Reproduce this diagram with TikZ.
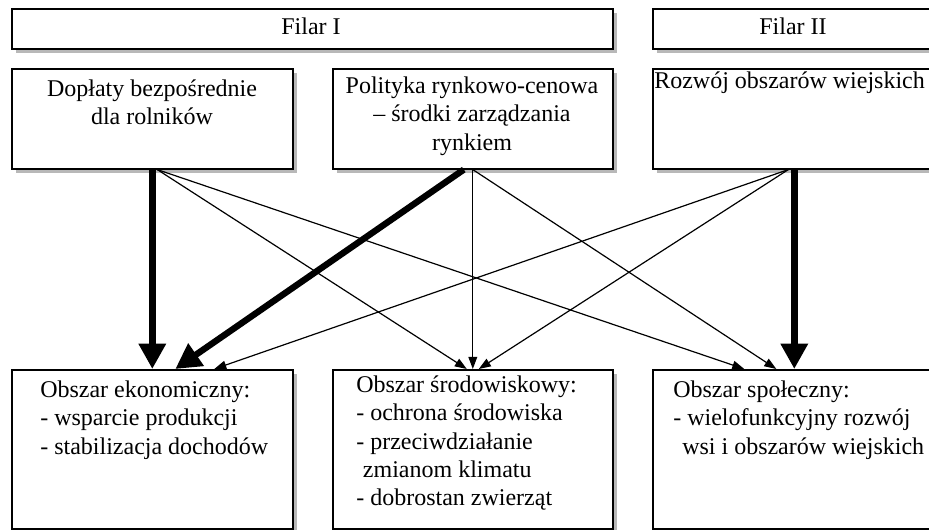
\documentclass[tikz,border=0pt]{standalone}
\usepackage{fontspec}
\setmainfont{Liberation Serif}
\usetikzlibrary{arrows.meta,shadows}
\def\PX{0.75pt}
\begin{document}
\begin{tikzpicture}[x=0.75pt,y=-0.75pt,
  box/.style={draw, line width=1.2pt, fill=white, inner sep=0pt, anchor=north west,
    general shadow={fill=black!28, shadow xshift=3pt, shadow yshift=-3pt}},
  txt/.style={inner sep=0pt, font=\fontsize{18}{21.3}\selectfont},
  link/.style={line width=0.9pt, -{Triangle[length=9pt,width=6.5pt]}},
  mainlink/.style={line width=4.8pt, -{Triangle[length=19pt,width=19.5pt]}}]
\useasboundingbox (0,0) rectangle (929,530);
\clip (0,0) rectangle (929,530);
% boxes
\node[box, minimum width=601*\PX, minimum height=40*\PX] (f1) at (11,8) {};
\node[box, minimum width=283*\PX, minimum height=40*\PX] (f2) at (652,8) {};
\node[box, minimum width=281*\PX, minimum height=100*\PX] (d) at (11,68) {};
\node[box, minimum width=280*\PX, minimum height=100*\PX] (p) at (332,68) {};
\node[box, minimum width=283*\PX, minimum height=100*\PX] (r) at (652,68) {};
\node[box, minimum width=281*\PX, minimum height=159*\PX] (e) at (11,369) {};
\node[box, minimum width=280*\PX, minimum height=159*\PX] (s) at (332,369) {};
\node[box, minimum width=283*\PX, minimum height=159*\PX] (o) at (652,369) {};
% texts
\node[txt, anchor=base] (f1t) at (311,35) {Filar I};
\node[txt, anchor=base] (f2t) at (793,35) {Filar II};
\node[txt, anchor=north, align=center] (dt) at (152,74.7)
  {\rule{0pt}{16pt}Dopłaty bezpośrednie\\dla rolników};
\node[txt, anchor=north, align=center] (pt) at (472,71.7)
  {\rule{0pt}{16pt}Polityka rynkowo-cenowa\\– środki zarządzania\\rynkiem};
\node[txt, anchor=north west, align=left] (rt) at (654,66.7)
  {\rule{0pt}{16pt}Rozwój obszarów wiejskich};
\node[txt, anchor=north west, align=left] (et) at (40,375.7)
  {\rule{0pt}{16pt}Obszar ekonomiczny:\\- wsparcie produkcji\\- stabilizacja dochodów};
\node[txt, anchor=north west, align=left] (st) at (356,370.7)
  {\rule{0pt}{16pt}Obszar środowiskowy:\\- ochrona środowiska\\- przeciwdziałanie\\\hspace*{5pt}zmianom klimatu\\- dobrostan zwierząt};
\node[txt, anchor=north west, align=left] (ot) at (673,375.7)
  {\rule{0pt}{16pt}Obszar społeczny:\\- wielofunkcyjny rozwój\\\hspace*{6.75pt}wsi i obszarów wiejskich};
% connectors
\draw[link] ([xshift=5*\PX]d.south) -- ([xshift=-6*\PX]s.north);
\draw[link] ([xshift=5*\PX]d.south) -- ([xshift=-50*\PX]o.north);
\draw[link] (p.south) -- (s.north);
\draw[link] (p.south) -- ([xshift=-18*\PX]o.north);
\draw[link] ([xshift=-6*\PX]r.south) -- ([xshift=62*\PX]e.north);
\draw[link] ([xshift=-6*\PX]r.south) -- ([xshift=6*\PX]s.north);
\draw[mainlink] (d.south) -- (e.north);
\draw[mainlink] ([xshift=-9*\PX]p.south) -- ([xshift=23*\PX]e.north);
\draw[mainlink] (r.south) -- (o.north);
\end{tikzpicture}
\end{document}
